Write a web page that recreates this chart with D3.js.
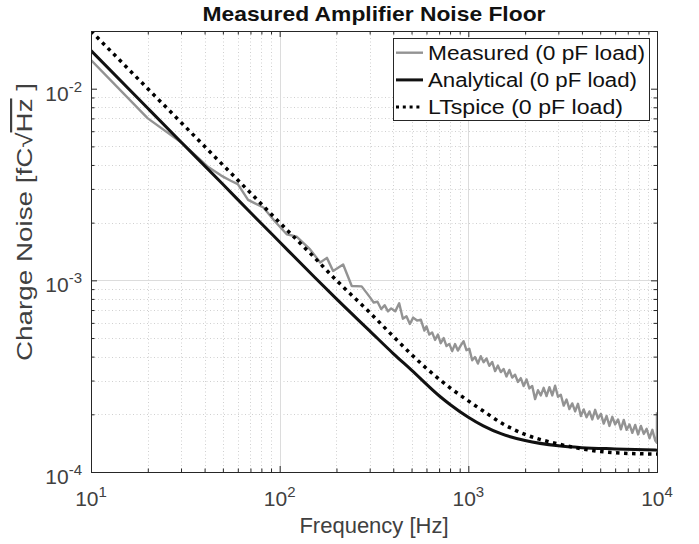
<!DOCTYPE html>
<html>
<head>
<meta charset="utf-8">
<script src="https://cdn.jsdelivr.net/npm/d3@7"></script>
<style>
  body { margin: 0; background: #fff; }
  svg { display: block; font-family: "Liberation Sans", Arial, Helvetica, sans-serif; }
</style>
</head>
<body>
<div id="chart"></div>
<script>
// measured noise (grey trace)
const freqMeasured = [10, 20, 30, 42, 49, 55, 60, 68, 82, 94, 109, 123, 145, 164, 178, 192, 217, 241, 272,
  300, 315, 330, 345, 360, 375, 390, 410, 430, 450, 470, 490, 510, 535, 560, 585,
  600, 621, 643, 666, 690, 714, 740, 766, 793, 821, 850, 880, 912, 944, 977, 1012, 1048, 1085, 1124,
  1164, 1205, 1248, 1292, 1338, 1386, 1435, 1486, 1538, 1593, 1650, 1708, 1769, 1832, 1897, 1964,
  2034, 2106, 2181, 2259, 2339, 2422, 2508, 2597, 2689, 2785, 2884, 2986, 3092, 3202, 3316, 3433,
  3555, 3682, 3812, 3948, 4088, 4233, 4384, 4539, 4701, 4868, 5041, 5220, 5405, 5597, 5796, 6002,
  6215, 6436, 6665, 6901, 7147, 7400, 7663, 7936, 8218, 8510, 8812, 9125, 9450, 9786, 9990, 10000];
const measured = [1.41e-2, 7.0e-3, 5.26e-3, 3.89e-3, 3.52e-3, 3.31e-3, 3.18e-3, 2.63e-3, 2.40e-3, 2.04e-3,
  1.74e-3, 1.69e-3, 1.45e-3, 1.24e-3, 1.31e-3, 1.12e-3, 1.21e-3, 9.34e-4, 9.3e-4,
  8.2e-4, 7.66e-4, 7.73e-4, 7.08e-4, 7.42e-4, 6.89e-4, 7.14e-4, 6.89e-4, 7.59e-4, 6.31e-4, 6.49e-4,
  5.92e-4, 6.39e-4, 6.17e-4, 6.24e-4, 5.47e-4,
  5.75e-4, 5.21e-4, 5.35e-4, 4.89e-4, 5.21e-4, 4.70e-4, 5.00e-4, 4.54e-4, 4.66e-4, 4.27e-4, 4.65e-4,
  4.30e-4, 4.58e-4, 4.81e-4, 4.32e-4, 4.39e-4, 3.83e-4, 3.98e-4, 3.68e-4, 4.02e-4, 3.74e-4, 3.91e-4,
  3.58e-4, 3.75e-4, 3.36e-4, 3.59e-4, 3.32e-4, 3.45e-4, 3.15e-4, 3.41e-4, 3.11e-4, 3.22e-4, 2.95e-4,
  3.09e-4, 2.81e-4, 3.04e-4, 2.73e-4, 2.81e-4, 2.40e-4, 2.67e-4, 2.51e-4, 2.75e-4, 2.49e-4, 2.77e-4,
  2.51e-4, 2.82e-4, 2.47e-4, 2.53e-4, 2.22e-4, 2.39e-4, 2.13e-4, 2.28e-4, 2.07e-4, 2.27e-4, 1.96e-4,
  2.12e-4, 1.93e-4, 2.07e-4, 1.88e-4, 2.11e-4, 1.90e-4, 2.01e-4, 1.79e-4, 1.96e-4, 1.74e-4, 1.94e-4,
  1.77e-4, 1.88e-4, 1.67e-4, 1.87e-4, 1.66e-4, 1.77e-4, 1.60e-4, 1.76e-4, 1.57e-4, 1.74e-4, 1.58e-4,
  1.68e-4, 1.50e-4, 1.66e-4, 1.46e-4, 1.42e-4, 2.05e-4];

// model curves
const freqModel = [10, 20, 30, 50, 70, 100, 150, 200, 300, 400, 500, 700, 800, 1000, 1200, 1500, 2000, 3000, 4000, 6000, 10000];
const analytical = [1.58e-2, 7.9e-3, 5.27e-3, 3.17e-3, 2.26e-3, 1.585e-3, 1.06e-3, 8.0e-4, 5.45e-4, 4.15e-4,
  3.4e-4, 2.5e-4, 2.25e-4, 1.93e-4, 1.74e-4, 1.58e-4, 1.46e-4, 1.37e-4, 1.34e-4, 1.32e-4, 1.30e-4];
const ltspice = [2.0e-2, 1.0e-2, 6.67e-3, 4.0e-3, 2.86e-3, 2.0e-3, 1.34e-3, 1.0e-3, 6.8e-4, 5.1e-4,
  4.1e-4, 3.05e-4, 2.75e-4, 2.35e-4, 2.08e-4, 1.8e-4, 1.57e-4, 1.40e-4, 1.32e-4, 1.26e-4, 1.24e-4];

const seriesNames = ['Measured (0 pF load)', 'Analytical (0 pF load)', 'LTspice (0 pF load)'];
const xTicks = [10, 100, 1000, 10000];
const yTicks = [1e-4, 1e-3, 1e-2];

const W = 699, H = 544;
const plot = {left: 91, right: 657, top: 31, bottom: 472};
const axisColor = '#262626';
const labelColor = '#404040';

const svg = d3.select('#chart').append('svg')
  .attr('width', W)
  .attr('height', H);

svg.append('rect').attr('width', W).attr('height', H).attr('fill', '#fff');

const x = d3.scaleLog().domain([10, 1e4]).range([plot.left, plot.right]);
const y = d3.scaleLog().domain([1e-4, 2e-2]).range([plot.bottom, plot.top]);

// minor tick positions
const xMinor = [];
[10, 100, 1000].forEach(d => { for (let k = 2; k < 10; k++) xMinor.push(d * k); });
const yMinor = [];
[1e-4, 1e-3].forEach(d => { for (let k = 2; k < 10; k++) yMinor.push(d * k); });

// grid
const grid = svg.append('g');
grid.selectAll('.vminor').data(xMinor).enter().append('line')
  .attr('x1', d => Math.round(x(d)) + 0.5).attr('x2', d => Math.round(x(d)) + 0.5)
  .attr('y1', plot.top).attr('y2', plot.bottom)
  .attr('stroke', '#c4c4c4').attr('stroke-width', 0.8).attr('stroke-dasharray', '1,2.5');
grid.selectAll('.hminor').data(yMinor).enter().append('line')
  .attr('y1', d => Math.round(y(d)) + 0.5).attr('y2', d => Math.round(y(d)) + 0.5)
  .attr('x1', plot.left).attr('x2', plot.right)
  .attr('stroke', '#c4c4c4').attr('stroke-width', 0.8).attr('stroke-dasharray', '1,2.5');
grid.selectAll('.vmajor').data(xTicks.slice(1, -1)).enter().append('line')
  .attr('x1', d => Math.round(x(d)) + 0.5).attr('x2', d => Math.round(x(d)) + 0.5)
  .attr('y1', plot.top).attr('y2', plot.bottom)
  .attr('stroke', '#dcdcdc').attr('stroke-width', 1);
grid.selectAll('.hmajor').data(yTicks.slice(1, -1)).enter().append('line')
  .attr('y1', d => Math.round(y(d)) + 0.5).attr('y2', d => Math.round(y(d)) + 0.5)
  .attr('x1', plot.left).attr('x2', plot.right)
  .attr('stroke', '#dcdcdc').attr('stroke-width', 1);

// data lines
svg.append('clipPath').attr('id', 'clip').append('rect')
  .attr('x', plot.left).attr('y', plot.top)
  .attr('width', plot.right - plot.left).attr('height', plot.bottom - plot.top);

const lines = svg.append('g').attr('clip-path', 'url(#clip)');
const line = d3.line().x(d => x(d[0])).y(d => y(d[1]));
const smooth = d3.line().x(d => x(d[0])).y(d => y(d[1])).curve(d3.curveMonotoneX);

lines.append('path')
  .attr('d', line(d3.zip(freqMeasured, measured)))
  .attr('fill', 'none').attr('stroke', '#939393').attr('stroke-width', 2.4)
  .attr('stroke-linejoin', 'round');
lines.append('path')
  .attr('d', smooth(d3.zip(freqModel, analytical)))
  .attr('fill', 'none').attr('stroke', '#111').attr('stroke-width', 3);
lines.append('path')
  .attr('d', smooth(d3.zip(freqModel, ltspice)))
  .attr('fill', 'none').attr('stroke', '#000').attr('stroke-width', 3.5)
  .attr('stroke-dasharray', '3.5,4.5');

// axes: ticks pointing inwards on all four sides
function styleAxis(g) {
  g.select('.domain').remove();
  g.selectAll('line').attr('stroke', axisColor);
}
[[d3.axisBottom(x), `translate(0,${plot.bottom})`, xTicks, xMinor],
 [d3.axisTop(x), `translate(0,${plot.top})`, xTicks, xMinor],
 [d3.axisLeft(y), `translate(${plot.left},0)`, yTicks, yMinor],
 [d3.axisRight(y), `translate(${plot.right},0)`, yTicks, yMinor]].forEach(([ax, tr, major, minor]) => {
  svg.append('g').attr('transform', tr)
    .call(ax.tickValues(major).tickSize(-6).tickSizeOuter(0).tickFormat(''))
    .call(styleAxis);
  svg.append('g').attr('transform', tr)
    .call(ax.tickValues(minor).tickSize(-3.5).tickSizeOuter(0).tickFormat(''))
    .call(styleAxis);
});

svg.append('rect')
  .attr('x', plot.left + 0.5).attr('y', plot.top + 0.5)
  .attr('width', plot.right - plot.left).attr('height', plot.bottom - plot.top)
  .attr('fill', 'none').attr('stroke', axisColor).attr('stroke-width', 1);

// tick labels with superscript exponents
xTicks.forEach(t => {
  const tx = svg.append('text')
    .attr('x', x(t)).attr('y', 506)
    .attr('text-anchor', 'middle')
    .attr('fill', labelColor).attr('font-size', 21);
  tx.append('tspan').text('10');
  tx.append('tspan').attr('dy', -9).attr('font-size', 15).text(Math.round(Math.log10(t)));
});
yTicks.forEach(t => {
  const ty = svg.append('text')
    .attr('x', 82).attr('y', y(t) + 12)
    .attr('text-anchor', 'end')
    .attr('fill', labelColor).attr('font-size', 21);
  ty.append('tspan').text('10');
  ty.append('tspan').attr('dy', -9).attr('font-size', 15).text(Math.round(Math.log10(t)));
});

// axis labels
svg.append('text')
  .attr('x', 374).attr('y', 533)
  .attr('text-anchor', 'middle')
  .attr('fill', labelColor).attr('font-size', 22)
  .text('Frequency [Hz]');

const yl = svg.append('text')
  .attr('transform', 'translate(32,222) rotate(-90)')
  .attr('text-anchor', 'middle')
  .attr('fill', labelColor).attr('font-size', 22)
  .attr('textLength', 278).attr('lengthAdjust', 'spacingAndGlyphs');
yl.append('tspan').text('Charge Noise [fC');
yl.append('tspan').text('\u221A');
yl.append('tspan').style('text-decoration', 'overline').text('Hz');
yl.append('tspan').text(' ]');

// title
svg.append('text')
  .attr('x', 374).attr('y', 20.5)
  .attr('text-anchor', 'middle')
  .attr('fill', '#111').attr('font-size', 21).attr('font-weight', 'bold')
  .attr('textLength', 343).attr('lengthAdjust', 'spacingAndGlyphs')
  .text('Measured Amplifier Noise Floor');

// legend
const legend = [
  {name: seriesNames[0], color: '#939393', width: 2.4, dash: null, len: 217},
  {name: seriesNames[1], color: '#111', width: 3, dash: null, len: 209},
  {name: seriesNames[2], color: '#000', width: 3, dash: '3,3.8', len: 195},
];
const lg = svg.append('g');
lg.append('rect')
  .attr('x', 393.5).attr('y', 38.5).attr('width', 256).attr('height', 82)
  .attr('fill', '#fff').attr('stroke', axisColor).attr('stroke-width', 1);
legend.forEach((d, i) => {
  const ly = 52.7 + i * 27.2;
  lg.append('line')
    .attr('x1', 396).attr('x2', 423).attr('y1', ly).attr('y2', ly)
    .attr('stroke', d.color).attr('stroke-width', d.width)
    .attr('stroke-dasharray', d.dash);
  lg.append('text')
    .attr('x', 428).attr('y', ly + 6.8)
    .attr('fill', '#111').attr('font-size', 20)
    .attr('textLength', d.len).attr('lengthAdjust', 'spacingAndGlyphs')
    .text(d.name);
});
</script>
</body>
</html>
